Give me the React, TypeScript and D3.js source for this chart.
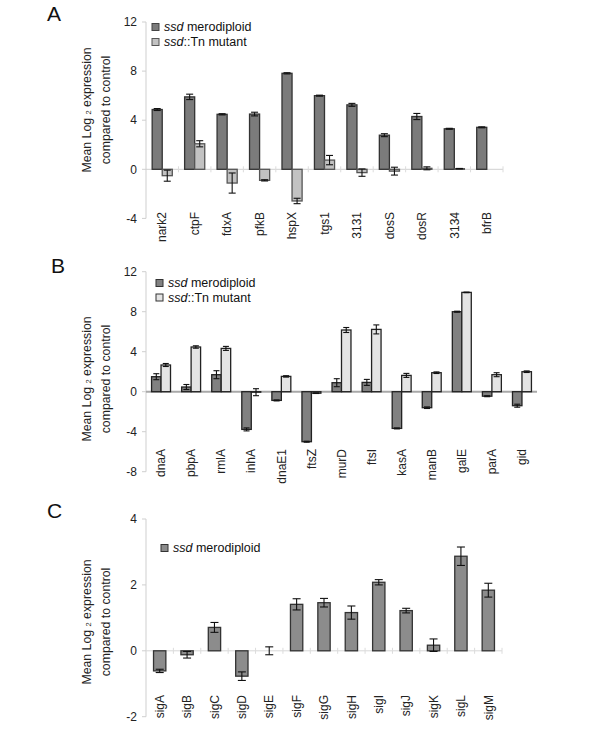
import React from 'react';
import * as d3 from 'd3';

// ---------- Data ----------
const catsA = ['nark2', 'ctpF', 'fdxA', 'pfkB', 'hspX', 'tgs1', '3131', 'dosS', 'dosR', '3134', 'bfrB'];
const meroA = [4.87, 5.9, 4.48, 4.5, 7.82, 6.0, 5.25, 2.78, 4.3, 3.3, 3.42];
const meroErrA = [0.08, 0.22, 0.05, 0.15, 0.05, 0.04, 0.12, 0.12, 0.25, 0.04, 0.04];
const tnA = [-0.52, 2.08, -1.12, -0.9, -2.58, 0.75, -0.27, -0.15, 0.08, 0.05, 0];
const tnErrA = [0.45, 0.25, 0.82, 0.05, 0.22, 0.38, 0.3, 0.32, 0.12, 0.02, 0];
const ticksA = [-4, 0, 4, 8, 12];

const catsB = ['dnaA', 'pbpA', 'rmlA', 'inhA', 'dnaE1', 'ftsZ', 'murD', 'ftsI', 'kasA', 'manB', 'galE', 'parA', 'gid'];
const meroB = [1.5, 0.47, 1.7, -3.77, -0.87, -5.0, 0.9, 0.93, -3.67, -1.6, 8.0, -0.45, -1.4];
const meroErrB = [0.3, 0.25, 0.4, 0.15, 0.05, 0.05, 0.4, 0.3, 0.05, 0.08, 0.05, 0.05, 0.15];
const tnB = [2.67, 4.47, 4.33, -0.05, 1.53, -0.15, 6.17, 6.23, 1.63, 1.9, 9.93, 1.7, 2.0];
const tnErrB = [0.15, 0.12, 0.2, 0.35, 0.07, 0.03, 0.25, 0.45, 0.2, 0.08, 0.03, 0.2, 0.08];
const ticksB = [-8, -4, 0, 4, 8, 12];

const catsC = ['sigA', 'sigB', 'sigC', 'sigD', 'sigE', 'sigF', 'sigG', 'sigH', 'sigI', 'sigJ', 'sigK', 'sigL', 'sigM'];
const meroC = [-0.61, -0.12, 0.71, -0.77, 0, 1.41, 1.46, 1.16, 2.08, 1.22, 0.17, 2.87, 1.84];
const meroErrC = [0.05, 0.1, 0.15, 0.13, 0.12, 0.17, 0.13, 0.2, 0.08, 0.07, 0.19, 0.28, 0.21];
const ticksC = [-2, 0, 2, 4];

const legendMero = 'merodiploid';
const legendTn = '::Tn mutant';
const yTitle1a = 'Mean Log ';
const yTitle1b = '2';
const yTitle1c = ' expression';
const yTitle2 = 'compared to control';

const AXIS_FONT = '"Liberation Sans", Arial, sans-serif';
const LEG_FONT = '"Liberation Sans", Arial, sans-serif';

type Series = { values: number[]; errs: number[]; fill: string; stroke: string };

type PanelProps = {
  letter: string;
  letterX: number;
  letterY: number;
  cats: string[];
  series: Series[];
  ticks: number[];
  yDomain: [number, number];
  yRange: [number, number];
  xRange: [number, number];
  barFrac: number;
  capW: number;
  labelY: number;
  titleY: number;
  zeroStroke: string;
  zeroWidth: number;
  showZeroTicks: boolean;
  legend: { x: number; y: number; text: string; fill: string; stroke: string }[];
};

function Panel(p: PanelProps) {
  const y = d3.scaleLinear().domain(p.yDomain).range(p.yRange);
  const x = d3.scaleBand<string>().domain(p.cats).range(p.xRange);
  const bw = x.bandwidth();
  const barW = bw * p.barFrac;
  const n = p.series.length;
  const groupW = barW * n;
  const y0 = y(0);
  const axisX = p.xRange[0];

  return (
    <g>
      <text x={p.letterX} y={p.letterY} fontFamily={AXIS_FONT} fontSize={21} fill="#111">{p.letter}</text>
      {/* y axis */}
      <line x1={axisX} x2={axisX} y1={y(p.yDomain[1])} y2={y(p.yDomain[0])} stroke="#cfcfcf" strokeWidth={1} />
      {p.ticks.map((t) => (
        <g key={'t' + t}>
          <line x1={axisX - 4} x2={axisX} y1={y(t)} y2={y(t)} stroke="#cfcfcf" strokeWidth={1} />
          <text x={axisX - 9} y={y(t)} dy="0.35em" textAnchor="end" fontFamily={AXIS_FONT} fontSize={12} fill="#222">{t}</text>
        </g>
      ))}
      {/* y title */}
      <text transform={`translate(91,${p.titleY}) rotate(-90)`} textAnchor="middle" fontFamily={AXIS_FONT} fontSize={12.3} fill="#222">
        {yTitle1a}<tspan fontSize={7.5}>{yTitle1b}</tspan>{yTitle1c}
      </text>
      <text transform={`translate(110,${p.titleY}) rotate(-90)`} textAnchor="middle" fontFamily={AXIS_FONT} fontSize={12.3} fill="#222">
        {yTitle2}
      </text>
      {/* zero line */}
      <line x1={axisX} x2={p.xRange[1]} y1={y0} y2={y0} stroke={p.zeroStroke} strokeWidth={p.zeroWidth} />
      {p.showZeroTicks && p.cats.map((c, i) => (
        <line key={'zt' + i} x1={(x(c) as number) + bw} x2={(x(c) as number) + bw} y1={y0 - 3} y2={y0 + 3} stroke="#dcdcdc" strokeWidth={1} />
      ))}
      {/* bars */}
      {p.series.map((s, si) => (
        <g key={'s' + si}>
          {p.cats.map((c, i) => {
            const v = s.values[i];
            const bx = (x(c) as number) + (bw - groupW) / 2 + si * barW;
            const top = Math.min(y(v), y0);
            const h = Math.abs(y(v) - y0);
            const cx = bx + barW / 2;
            const e = s.errs[i];
            return (
              <g key={c}>
                <rect x={bx} y={top} width={barW} height={h} fill={s.fill} stroke={s.stroke} strokeWidth={1.3} />
                {e > 0 && (
                  <g stroke="#111" strokeWidth={1.1}>
                    <line x1={cx} x2={cx} y1={y(v + e)} y2={y(v - e)} />
                    <line x1={cx - p.capW / 2} x2={cx + p.capW / 2} y1={y(v + e)} y2={y(v + e)} />
                    <line x1={cx - p.capW / 2} x2={cx + p.capW / 2} y1={y(v - e)} y2={y(v - e)} />
                  </g>
                )}
              </g>
            );
          })}
        </g>
      ))}
      {/* category labels */}
      {p.cats.map((c) => (
        <text key={'l' + c} transform={`translate(${(x(c) as number) + bw / 2},${p.labelY}) rotate(-90)`} dy="0.35em" textAnchor="end" fontFamily={AXIS_FONT} fontSize={12} fill="#222">{c}</text>
      ))}
      {/* legend */}
      {p.legend.map((l, i) => (
        <g key={'lg' + i}>
          <rect x={l.x} y={l.y - 3.5} width={7} height={7} fill={l.fill} stroke={l.stroke} strokeWidth={1} />
          <text x={l.x + 12} y={l.y} dy="0.35em" fontFamily={LEG_FONT} fontSize={12.5} fill="#111">
            <tspan fontStyle="italic">ssd</tspan>{l.text === 'm' ? ' ' + legendMero : legendTn}
          </text>
        </g>
      ))}
    </g>
  );
}

export default function App() {
  const darkA = '#7b7b7b';
  const lightA = '#c2c2c2';
  const darkB = '#818181';
  const lightB = '#e4e4e4';
  const darkC = '#8c8c8c';
  return (
    <svg width={600} height={750} style={{ position: 'absolute', left: 0, top: 0, background: '#fff' }}>
      <rect x={0} y={0} width={600} height={750} fill="#fff" />
      <Panel
        letter="A" letterX={47} letterY={21}
        cats={catsA}
        series={[
          { values: meroA, errs: meroErrA, fill: darkA, stroke: '#333' },
          { values: tnA, errs: tnErrA, fill: lightA, stroke: '#555' },
        ]}
        ticks={ticksA}
        yDomain={[-4, 12]} yRange={[218.4, 22]}
        xRange={[146, 503]}
        barFrac={0.31} capW={7}
        labelY={212} titleY={110}
        zeroStroke="#d0d0d0" zeroWidth={1} showZeroTicks={true}
        legend={[
          { x: 152, y: 27, text: 'm', fill: darkA, stroke: '#444' },
          { x: 152, y: 42, text: 't', fill: lightA, stroke: '#555' },
        ]}
      />
      <Panel
        letter="B" letterX={51} letterY={273}
        cats={catsB}
        series={[
          { values: meroB, errs: meroErrB, fill: darkB, stroke: '#222' },
          { values: tnB, errs: tnErrB, fill: lightB, stroke: '#222' },
        ]}
        ticks={ticksB}
        yDomain={[-8, 12]} yRange={[471.7, 271.7]}
        xRange={[146, 537]}
        barFrac={0.315} capW={6}
        labelY={449} titleY={379}
        zeroStroke="#a8a8a8" zeroWidth={2} showZeroTicks={false}
        legend={[
          { x: 156, y: 283, text: 'm', fill: darkB, stroke: '#333' },
          { x: 156, y: 297.5, text: 't', fill: lightB, stroke: '#333' },
        ]}
      />
      <Panel
        letter="C" letterX={47} letterY={518}
        cats={catsC}
        series={[
          { values: meroC, errs: meroErrC, fill: darkC, stroke: '#333' },
        ]}
        ticks={ticksC}
        yDomain={[-2, 4]} yRange={[716.7, 519]}
        xRange={[146, 502]}
        barFrac={0.45} capW={8}
        labelY={695} titleY={622}
        zeroStroke="#d8d8d8" zeroWidth={1} showZeroTicks={true}
        legend={[
          { x: 161, y: 548, text: 'm', fill: darkC, stroke: '#333' },
        ]}
      />
    </svg>
  );
}
